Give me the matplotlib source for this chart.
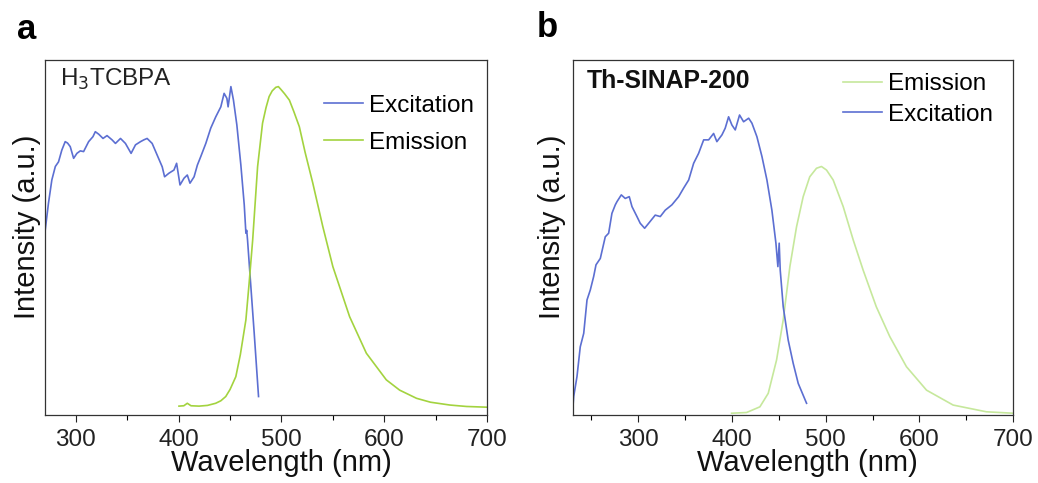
import matplotlib
matplotlib.use("Agg")
import matplotlib.pyplot as plt
from matplotlib.ticker import MultipleLocator, NullLocator

plt.rcParams['font.family'] = ['Liberation Sans', 'DejaVu Sans']

# ── Data (normalised intensity) ─────────────────────────────────────────────
# Panel a: H3TCBPA
a_exc_x = [269, 273.3, 276.6, 280, 283.1, 286.3, 289.6, 291.9, 294.5, 297.8, 301, 304.3,
           307.5, 312.4, 316.6, 318.9, 322.2, 326.4, 330.3, 335.2, 338.5, 343.4, 348.2,
           353.7, 358, 362.9, 366.1, 369.3, 374.2, 379.1, 384, 386.3, 390.5, 395.4, 398,
           401.3, 405.2, 408.4, 411, 415, 418.2, 421.5, 426.4, 431.2, 436.1, 441, 444.2,
           446.9, 448.1, 450.8, 453.3, 456.6, 460.5, 463.8, 465.4, 466.2, 467, 470, 473.5, 477.7]
a_exc_y = [0.493, 0.596, 0.662, 0.70, 0.713, 0.746, 0.770, 0.766, 0.756, 0.723, 0.737, 0.744,
           0.742, 0.770, 0.784, 0.798, 0.791, 0.779, 0.787, 0.775, 0.765, 0.779, 0.765,
           0.737, 0.761, 0.770, 0.775, 0.779, 0.765, 0.732, 0.699, 0.671, 0.681, 0.690, 0.709,
           0.648, 0.667, 0.676, 0.653, 0.671, 0.704, 0.728, 0.765, 0.808, 0.840, 0.868, 0.906,
           0.892, 0.868, 0.925, 0.887, 0.817, 0.704, 0.592, 0.512, 0.520, 0.493, 0.371, 0.23, 0.052]
a_em_x = [400.3, 405, 408.4, 412, 419.8, 428, 436, 441, 445.8, 450, 455.6, 460, 465.4,
          468.5, 472, 476.8, 481.6, 485, 488, 491, 494.5, 497, 499.5, 503, 507.7, 512,
          517.4, 523, 530.5, 540.2, 550, 566.3, 582.6, 602, 615, 631.4, 645, 664, 680, 699.7]
a_em_y = [0.025, 0.026, 0.033, 0.026, 0.025, 0.027, 0.033, 0.04, 0.052, 0.072, 0.108, 0.17, 0.268,
          0.37, 0.493, 0.7, 0.822, 0.866, 0.897, 0.913, 0.923, 0.925, 0.917, 0.905, 0.887, 0.855,
          0.812, 0.74, 0.653, 0.531, 0.418, 0.277, 0.174, 0.099, 0.07, 0.047, 0.036, 0.028, 0.024, 0.022]

# Panel b: Th-SINAP-200
b_exc_x = [230.5, 231.1, 234.6, 238.1, 241.8, 245.3, 248.8, 252.4, 254.9, 259.5, 264.8,
           268.4, 271.9, 275.5, 277.3, 281.9, 286.1, 290.4, 293.3, 298.6, 302.1, 306.8,
           311.1, 318.1, 323.5, 328.8, 335.9, 343.1, 348.4, 353.8, 359.1, 364.4, 369.8,
           375.1, 380.4, 383.9, 389.3, 392.8, 396.4, 399.9, 403.5, 408.1, 412.4, 417.8,
           421.3, 426.6, 432, 437.3, 442.6, 446.9, 449, 450.4, 451.5, 454.7, 460, 465.3,
           470.7, 479.6]
b_exc_y = [0.03, 0.052, 0.108, 0.192, 0.230, 0.324, 0.352, 0.390, 0.423, 0.441, 0.502,
           0.512, 0.568, 0.592, 0.601, 0.620, 0.610, 0.615, 0.587, 0.559, 0.540, 0.526,
           0.540, 0.563, 0.559, 0.577, 0.592, 0.615, 0.639, 0.662, 0.709, 0.737, 0.775,
           0.775, 0.793, 0.770, 0.789, 0.808, 0.840, 0.817, 0.803, 0.845, 0.826, 0.836,
           0.822, 0.784, 0.728, 0.662, 0.577, 0.484, 0.418, 0.484, 0.408, 0.305, 0.211, 0.146,
           0.089, 0.033]
b_em_x = [399.6, 415.6, 429.8, 438.7, 447.6, 454.7, 461.8, 468.9, 476, 483, 490.2, 495.5,
          500.9, 508, 518.7, 529.4, 540, 554, 568.4, 586.2, 607.6, 636, 671.5, 700]
b_em_y = [0.005, 0.007, 0.023, 0.061, 0.155, 0.268, 0.418, 0.53, 0.615, 0.671, 0.695, 0.7,
          0.69, 0.662, 0.587, 0.493, 0.408, 0.305, 0.221, 0.136, 0.07, 0.028, 0.009, 0.005]

EXC_COLOR = '#5c6fd2'
EM_A_COLOR = '#a3d33f'
EM_B_COLOR = '#c6e89c'

fig = plt.figure(figsize=(10.38, 4.83), dpi=100)
ax_a = fig.add_axes([0.0434, 0.1408, 0.4258, 0.735])
ax_b = fig.add_axes([0.5517, 0.1408, 0.4243, 0.735])


def style_axes(ax, xmin, ypad):
    ax.set_xlim(xmin, 700)
    ax.set_ylim(0, 1)
    ax.xaxis.set_major_locator(MultipleLocator(100))
    ax.xaxis.set_minor_locator(MultipleLocator(50))
    ax.yaxis.set_major_locator(NullLocator())
    ax.tick_params(axis='x', which='major', direction='out', length=5, width=0.8,
                   labelsize=17.5, pad=5, colors='#222222')
    ax.tick_params(axis='x', which='minor', direction='out', length=3.5, width=0.8)
    for sp in ax.spines.values():
        sp.set_linewidth(0.9)
        sp.set_color('#333333')
    ax.set_xlabel('Wavelength (nm)', fontsize=21, color='#111111')
    ax.xaxis.set_label_coords(0.534, -0.097)
    ax.set_ylabel('Intensity (a.u.)', fontsize=21, labelpad=ypad, color='#111111')
    ax.yaxis.label.set_y(0.531)


# ── a ────────────────────────────────────────────────────────────────────────
ax_a.plot(a_exc_x, a_exc_y, color=EXC_COLOR, lw=1.2, label='Excitation')
ax_a.plot(a_em_x, a_em_y, color=EM_A_COLOR, lw=1.2, label='Emission')
style_axes(ax_a, 270, 3)
ax_a.text(0.034, 0.944, r'H$_3$TCBPA', transform=ax_a.transAxes, fontsize=17.5,
          va='center', ha='left', color='#222222')
ax_a.legend(loc='upper right', bbox_to_anchor=(1.01, 0.95), frameon=False, fontsize=17.5,
            handlelength=1.6, handletextpad=0.25, labelspacing=0.62, borderpad=0.2)

# ── b ────────────────────────────────────────────────────────────────────────
ax_b.plot(b_em_x, b_em_y, color=EM_B_COLOR, lw=1.2, label='Emission')
ax_b.plot(b_exc_x, b_exc_y, color=EXC_COLOR, lw=1.2, label='Excitation')
style_axes(ax_b, 230, 5)
ax_b.text(0.0325, 0.94, 'Th-SINAP-200', transform=ax_b.transAxes, fontsize=17.8,
          fontweight='bold', va='center', ha='left', color='#111111')
ax_b.legend(loc='upper right', bbox_to_anchor=(0.993, 1.01), frameon=False, fontsize=17.5,
            handlelength=1.6, handletextpad=0.25, labelspacing=0.33, borderpad=0.2)

# Panel letters
fig.text(17 / 1038, 1 - 39 / 483, 'a', fontsize=25, fontweight='bold', va='baseline', ha='left')
fig.text(537 / 1038, 1 - 37 / 483, 'b', fontsize=25, fontweight='bold', va='baseline', ha='left')

fig.savefig('out.png', dpi=100)
